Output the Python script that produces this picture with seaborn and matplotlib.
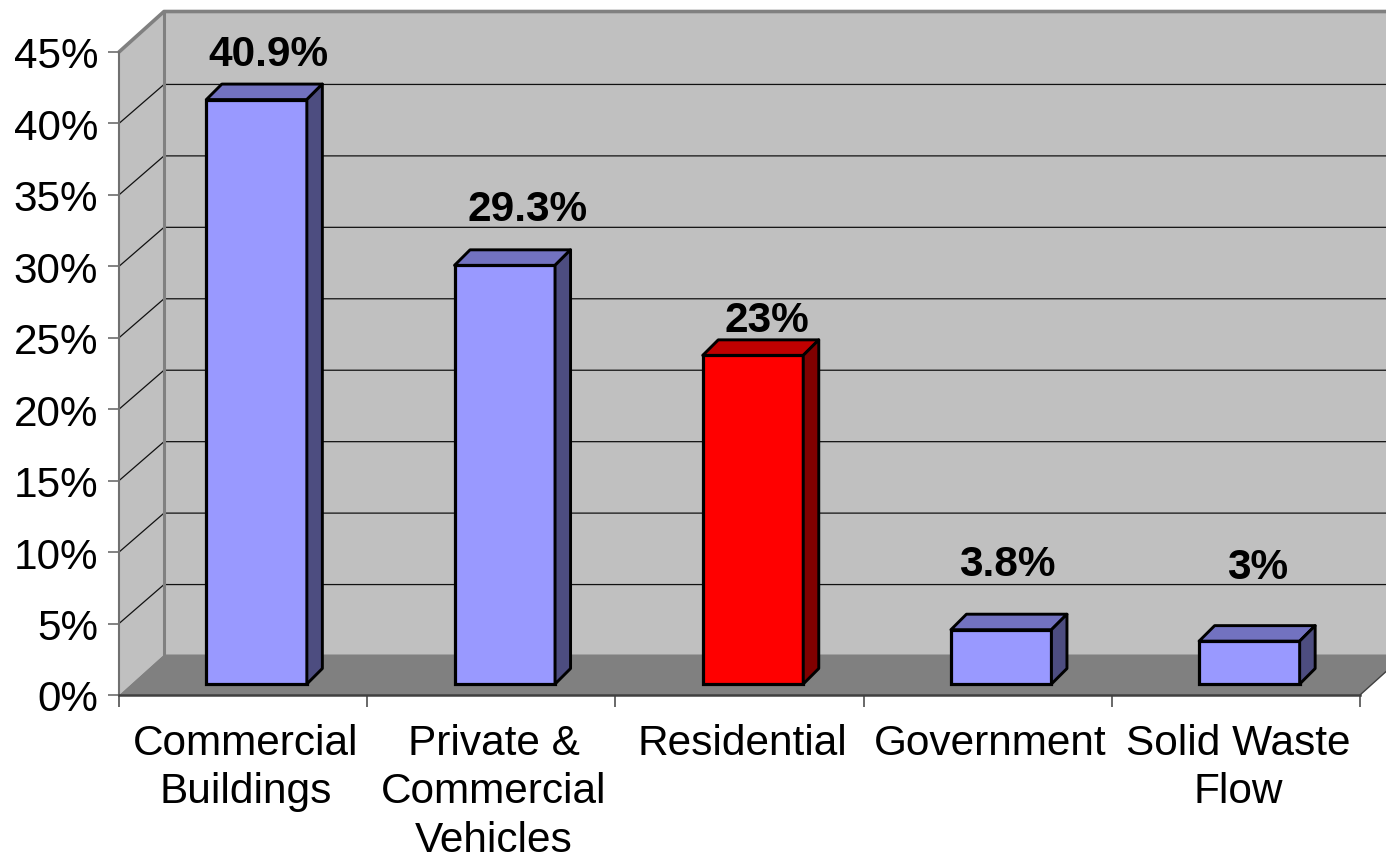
import matplotlib
matplotlib.use("Agg")
import matplotlib.pyplot as plt
from matplotlib.patches import Polygon
import pandas as pd
import seaborn as sns

categories = ["Commercial\nBuildings", "Private &\nCommercial\nVehicles",
              "Residential", "Government", "Solid Waste\nFlow"]
shares = [40.9, 29.3, 23.0, 3.8, 3.0]
value_labels = ["40.9%", "29.3%", "23%", "3.8%", "3%"]
y_ticks = [0, 5, 10, 15, 20, 25, 30, 35, 40, 45]
bar_colors = ["#9999FF", "#9999FF", "#FF0000", "#9999FF", "#9999FF"]
top_colors = ["#7272C0", "#7272C0", "#C00000", "#7272C0", "#7272C0"]
side_colors = ["#4D4D80", "#4D4D80", "#800000", "#4D4D80", "#4D4D80"]
# Hand-placed value label offsets above each bar's rear edge, in pixels
label_shift = [(12, 19), (23, 30), (14, 9), (6, 39), (8, 48)]

W, H = 1386, 854
L, R, B, T = 119, 1360, 696, 53

sns.set_theme(style="white")
plt.rcParams["font.family"] = ["Liberation Sans", "DejaVu Sans"]

fig = plt.figure(figsize=(W / 100, H / 100), dpi=100, facecolor="white")
ax = fig.add_axes([L / W, (H - B) / H, (R - L) / W, (B - T) / H])
ax.patch.set_visible(False)

frame = pd.DataFrame({"category": categories, "share": shares})
sns.barplot(data=frame, x="category", y="share", hue="category",
            palette=bar_colors, saturation=1, width=0.405, legend=False,
            edgecolor="black", linewidth=2.3, ax=ax, zorder=5)
ax.set_xlim(-0.5, 4.5)
ax.set_ylim(0, 45)

px_x = (R - L) / 5
px_y = (B - T) / 45
wall_dx, wall_dy = 45 / px_x, 40.5 / px_y
grid_dy = 39.0 / px_y
bar_dx, bar_dy = 15.5 / px_x, 15.5 / px_y
lift_x, lift_y = 13.5 / px_x, 11 / px_y

# Side wall, back wall and floor of the box
x0, x1, y1 = -0.5, 4.5, 45
ax.add_patch(Polygon([(x0, 0), (x0 + wall_dx, wall_dy), (x0 + wall_dx, y1 + wall_dy), (x0, y1)],
                     closed=True, fc="#C0C0C0", ec="none", clip_on=False, zorder=1))
ax.add_patch(Polygon([(x0 + wall_dx, wall_dy), (x1 + wall_dx, wall_dy),
                      (x1 + wall_dx, y1 + wall_dy), (x0 + wall_dx, y1 + wall_dy)],
                     closed=True, fc="#C0C0C0", ec="none", clip_on=False, zorder=1))
ax.add_patch(Polygon([(x0, 0), (x1, 0), (x1 + wall_dx, wall_dy), (x0 + wall_dx, wall_dy)],
                     closed=True, fc="#808080", ec="none", clip_on=False, zorder=2))

# Grid lines run along the side wall and then across the back wall
for tick in y_ticks[1:-1]:
    ax.plot([x0, x0 + wall_dx, x1 + wall_dx], [tick, tick + grid_dy, tick + grid_dy],
            color="#111111", lw=0.9, clip_on=False, zorder=3)

# Wall outline
ax.plot([x0, x0 + wall_dx, x1 + wall_dx], [y1, y1 + wall_dy, y1 + wall_dy],
        color="#808080", lw=2.6, clip_on=False, zorder=3)
ax.plot([x0 + wall_dx, x0 + wall_dx], [wall_dy, y1 + wall_dy],
        color="#808080", lw=2.2, clip_on=False, zorder=3)
ax.plot([x1, x1 + wall_dx], [0, wall_dy], color="#404040", lw=1.0, clip_on=False, zorder=3)

# Push the bars into the box and give each one a top and a side face
for bar, share, label, top_c, side_c, (sx, sy) in zip(
        ax.patches[:len(shares)], shares, value_labels, top_colors, side_colors, label_shift):
    bar.set_x(bar.get_x() + lift_x)
    bar.set_y(lift_y)
    bar.set_clip_on(False)
    a = bar.get_x()
    b = a + bar.get_width()
    base = lift_y
    top = base + share
    ax.add_patch(Polygon([(a, top), (b, top), (b + bar_dx, top + bar_dy), (a + bar_dx, top + bar_dy)],
                         closed=True, fc=top_c, ec="black", lw=2.1, joinstyle="round",
                         clip_on=False, zorder=6))
    ax.add_patch(Polygon([(b, top), (b + bar_dx, top + bar_dy), (b + bar_dx, base + bar_dy), (b, base)],
                         closed=True, fc=side_c, ec="black", lw=2.1, joinstyle="round",
                         clip_on=False, zorder=6))
    ax.annotate(label, xy=((a + b) / 2, top + bar_dy), xytext=(sx * 0.72, sy * 0.72),
                textcoords="offset points", ha="center", va="baseline",
                fontsize=30.5, fontweight="bold", color="black", zorder=7,
                annotation_clip=False)

sns.despine(ax=ax, top=True, right=True)
ax.spines["left"].set_color("#707070")
ax.spines["left"].set_linewidth(1.5)
ax.spines["left"].set_zorder(4)
ax.spines["bottom"].set_color("#404040")
ax.spines["bottom"].set_linewidth(1.8)
ax.spines["bottom"].set_zorder(4)

ax.set_xlabel("")
ax.set_ylabel("")
ax.set_yticks(y_ticks)
ax.set_yticklabels([f"{t}%" for t in y_ticks], fontsize=30.4, color="black")
ax.tick_params(axis="y", which="major", left=True, length=8, width=1.1,
               color="#606060", pad=7)

# Category names sit between the boundary ticks
ax.set_xticks([i + 0.01 for i in range(len(categories))])
ax.set_xticklabels(categories, fontsize=30.5, color="black", linespacing=1.27)
ax.set_xticks([i - 0.5 for i in range(len(categories) + 1)], minor=True)
ax.tick_params(axis="x", which="major", bottom=False, length=0, pad=20)
ax.tick_params(axis="x", which="minor", bottom=True, length=8.5, width=1.1, color="#404040")

fig.savefig("out.png", dpi=100, facecolor="white")
